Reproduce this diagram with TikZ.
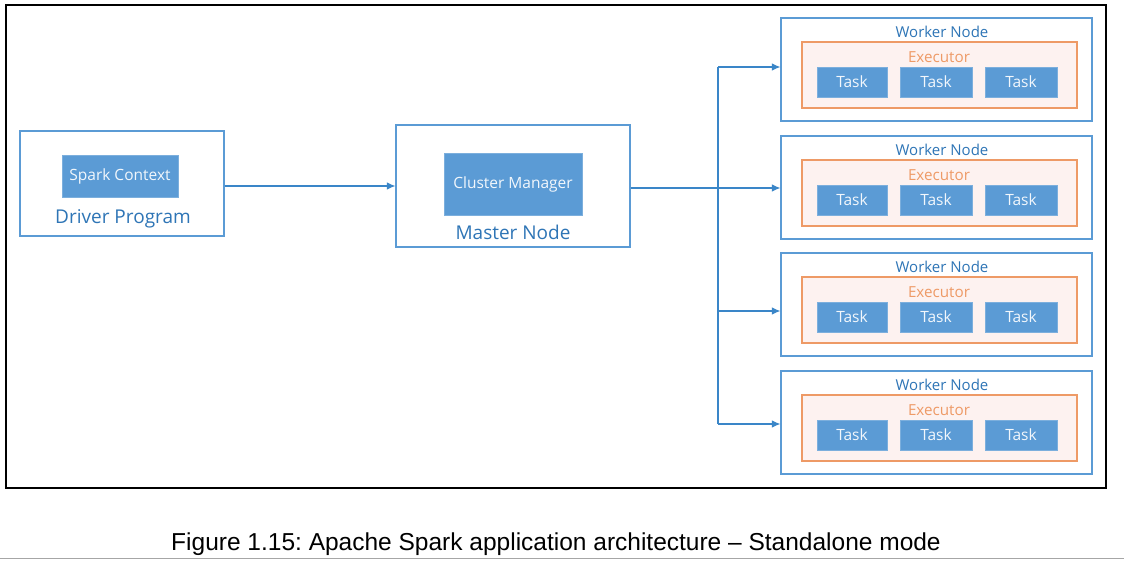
\documentclass[tikz,border=0pt]{standalone}
\usepackage{fontspec}
\setmainfont{Open Sans}
\newfontfamily\capfont{Liberation Sans}
\usetikzlibrary{arrows.meta}
\definecolor{boxblue}{HTML}{5B9BD5}
\definecolor{lineblue}{HTML}{3A86C8}
\definecolor{textblue}{HTML}{2E75B6}
\definecolor{taskfill}{HTML}{5B9BD5}
\definecolor{exborder}{HTML}{EE9A66}
\definecolor{exfill}{HTML}{FDF2F0}
\definecolor{extext}{HTML}{EE9A66}
\tikzset{
  frame/.style={draw=black,line width=2pt},
  outerbox/.style={draw=boxblue,line width=1.1pt,fill=white,inner sep=0pt},
  fillbox/.style={fill=taskfill,draw=taskfill!80!white,line width=0.6pt,inner sep=0pt,text=white!92!boxblue,font=\fontsize{15.5}{17}\selectfont},
  exbox/.style={draw=exborder,line width=1.6pt,fill=exfill,inner sep=0pt},
  bigtitle/.style={text=textblue,inner sep=0pt,anchor=base,font=\fontsize{19}{21}\selectfont},
  wtitle/.style={text=textblue,inner sep=0pt,font=\fontsize{15}{17}\selectfont},
  extitle/.style={text=extext,inner sep=0pt,font=\fontsize{15.2}{17}\selectfont},
  conn/.style={draw=lineblue,line width=1.2pt},
  arr/.style={conn,-{Latex[length=8.5pt,width=7.5pt]}}
}
\begin{document}
\frenchspacing
\begin{tikzpicture}[x=1pt,y=-1pt]
\useasboundingbox (0,0) rectangle (1124,560);
\fill[white] (0,0) rectangle (1124,560);
% outer frame
\draw[frame] (6,5) rectangle (1106,488);
% page separator line
\draw[gray!70,line width=1pt] (0,558) -- (1124,558);
% caption
\node[inner sep=0pt,font=\capfont\fontsize{24.5}{26}\selectfont,anchor=base] (cap) at (556,550) {Figure 1.15: Apache Spark application architecture – Standalone mode};
% driver
\node[outerbox,minimum width=204pt,minimum height=105pt] (d) at (122,183.5) {};
\node[fillbox,minimum width=116pt,minimum height=42pt] (sc) at (120,176) {Spark Context};
\node[bigtitle] (dt) at (123,223) {Driver Program};
% master
\node[outerbox,minimum width=234pt,minimum height=122pt] (m) at (513,186) {};
\node[fillbox,minimum width=138pt,minimum height=62pt] (cm) at (513,184) {Cluster Manager};
\node[bigtitle] (mt) at (513,239) {Master Node};
% workers
\foreach \i/\T in {1/18,2/136,3/253,4/371}{
  \node[outerbox,minimum width=311pt,minimum height=103pt] (w\i) at (936.5,\T+51.5) {};
  \node[wtitle] (wt\i) at (942,\T+14) {Worker Node};
  \node[exbox,minimum width=275pt,minimum height=66pt] (e\i) at (939.5,\T+57) {};
  \node[extitle] (et\i) at (939,\T+39.5) {Executor};
  \node[fillbox,minimum width=70pt,minimum height=30pt] (ta\i) at (852,\T+64) {Task};
  \node[fillbox,minimum width=72pt,minimum height=30pt] (tb\i) at (936,\T+64) {Task};
  \node[fillbox,minimum width=72pt,minimum height=30pt] (tc\i) at (1021,\T+64) {Task};
}
% connectors
\draw[arr] (d.east |- 0,186) -- (m.west |- 0,186);
\draw[arr] (m.east |- 0,188) -- (w2.west |- 0,188);
\coordinate (j1) at (718,67);
\coordinate (j3) at (718,311);
\coordinate (j4) at (718,424);
\draw[conn] (j1) -- (j4);
\draw[arr] (j1) -- (w1.west |- j1);
\draw[arr] (j3) -- (w3.west |- j3);
\draw[arr] (j4) -- (w4.west |- j4);
\end{tikzpicture}
\end{document}
